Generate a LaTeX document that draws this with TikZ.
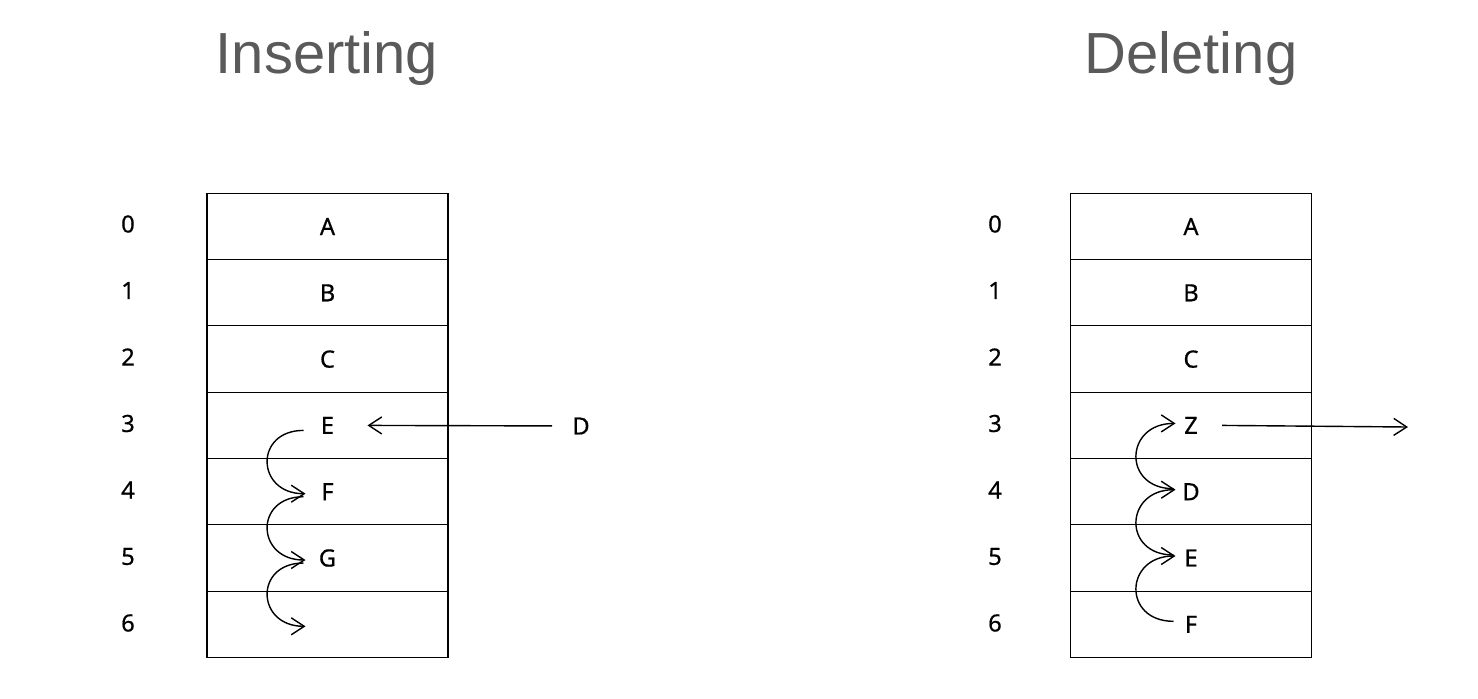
\documentclass[tikz,border=0pt]{standalone}
\usepackage{fontspec}
\setmainfont[FakeBold=0.6]{Noto Sans}
\newfontfamily\titlefont{Liberation Sans}
\usetikzlibrary{arrows.meta,positioning}
\definecolor{titlegray}{HTML}{5A5A5A}
\tikzset{
  cell/.style={
    draw, line width=0.6pt, minimum width=4.82cm, minimum height=1.326cm,
    inner sep=0pt, font=\bfseries\fontsize{13.5}{15}\selectfont
  },
  idx/.style={font=\bfseries\fontsize{13.5}{15}\selectfont, inner sep=0pt},
  heading/.style={font=\titlefont\fontsize{33}{40}\selectfont, text=titlegray},
  arr/.style={-{Straight Barb[length=2.6mm, width=3.4mm]}, line width=0.8pt},
  hop/.style={arr, out=180, in=180, looseness=2}
}

\begin{document}
\begin{tikzpicture}[x=0.02cm, y=-0.02cm]
  \useasboundingbox (0,0) rectangle (1478,698);

  \node[heading] (tins) at (327,59) {Inserting};
  \node[heading] (tdel) at (1191,59) {Deleting};

  % left array
  \foreach \i/\t in {0/A,1/B,2/C,3/E,4/F,5/G,6/{}} {
    \node[cell] (ins\i) at (327.5,226.5+66.3*\i) {\t};
    \node[idx] (ii\i) at (128,224+66.5*\i) {\i};
  }
  % right array
  \foreach \i/\t in {0/A,1/B,2/C,3/Z,4/D,5/E,6/F} {
    \node[cell] (del\i) at (1191,226.5+66.3*\i) {\t};
    \node[idx] (di\i) at (995,224+66.5*\i) {\i};
  }

  % anchors for the shifting arrows
  \foreach \i in {3,...,6} {
    \coordinate (ia\i) at ([xshift=-0.48cm]ins\i.center);
    \coordinate (da\i) at ([xshift=-0.35cm]del\i.center);
  }

  % inserting: D comes in, E F G move down
  \node[idx, inner xsep=0.4cm] (newd) at (581,426) {D};
  \draw[arr] (newd) -- ([xshift=0.8cm]ins3.center);
  \foreach \i/\j in {3/4,4/5,5/6}
    \draw[hop] ([yshift=-0.1cm]ia\i) to ([xshift=0.04cm,yshift=-0.04cm]ia\j);

  % deleting: Z goes out, D E F move up
  \coordinate (gone) at (1408,427);
  \draw[arr] ([xshift=0.62cm]del3.center) -- (gone);
  \foreach \i/\j in {4/3,5/4,6/5}
    \draw[hop] ([yshift=0.06cm]da\i) to ([xshift=0.04cm,yshift=0.04cm]da\j);
\end{tikzpicture}
\end{document}
